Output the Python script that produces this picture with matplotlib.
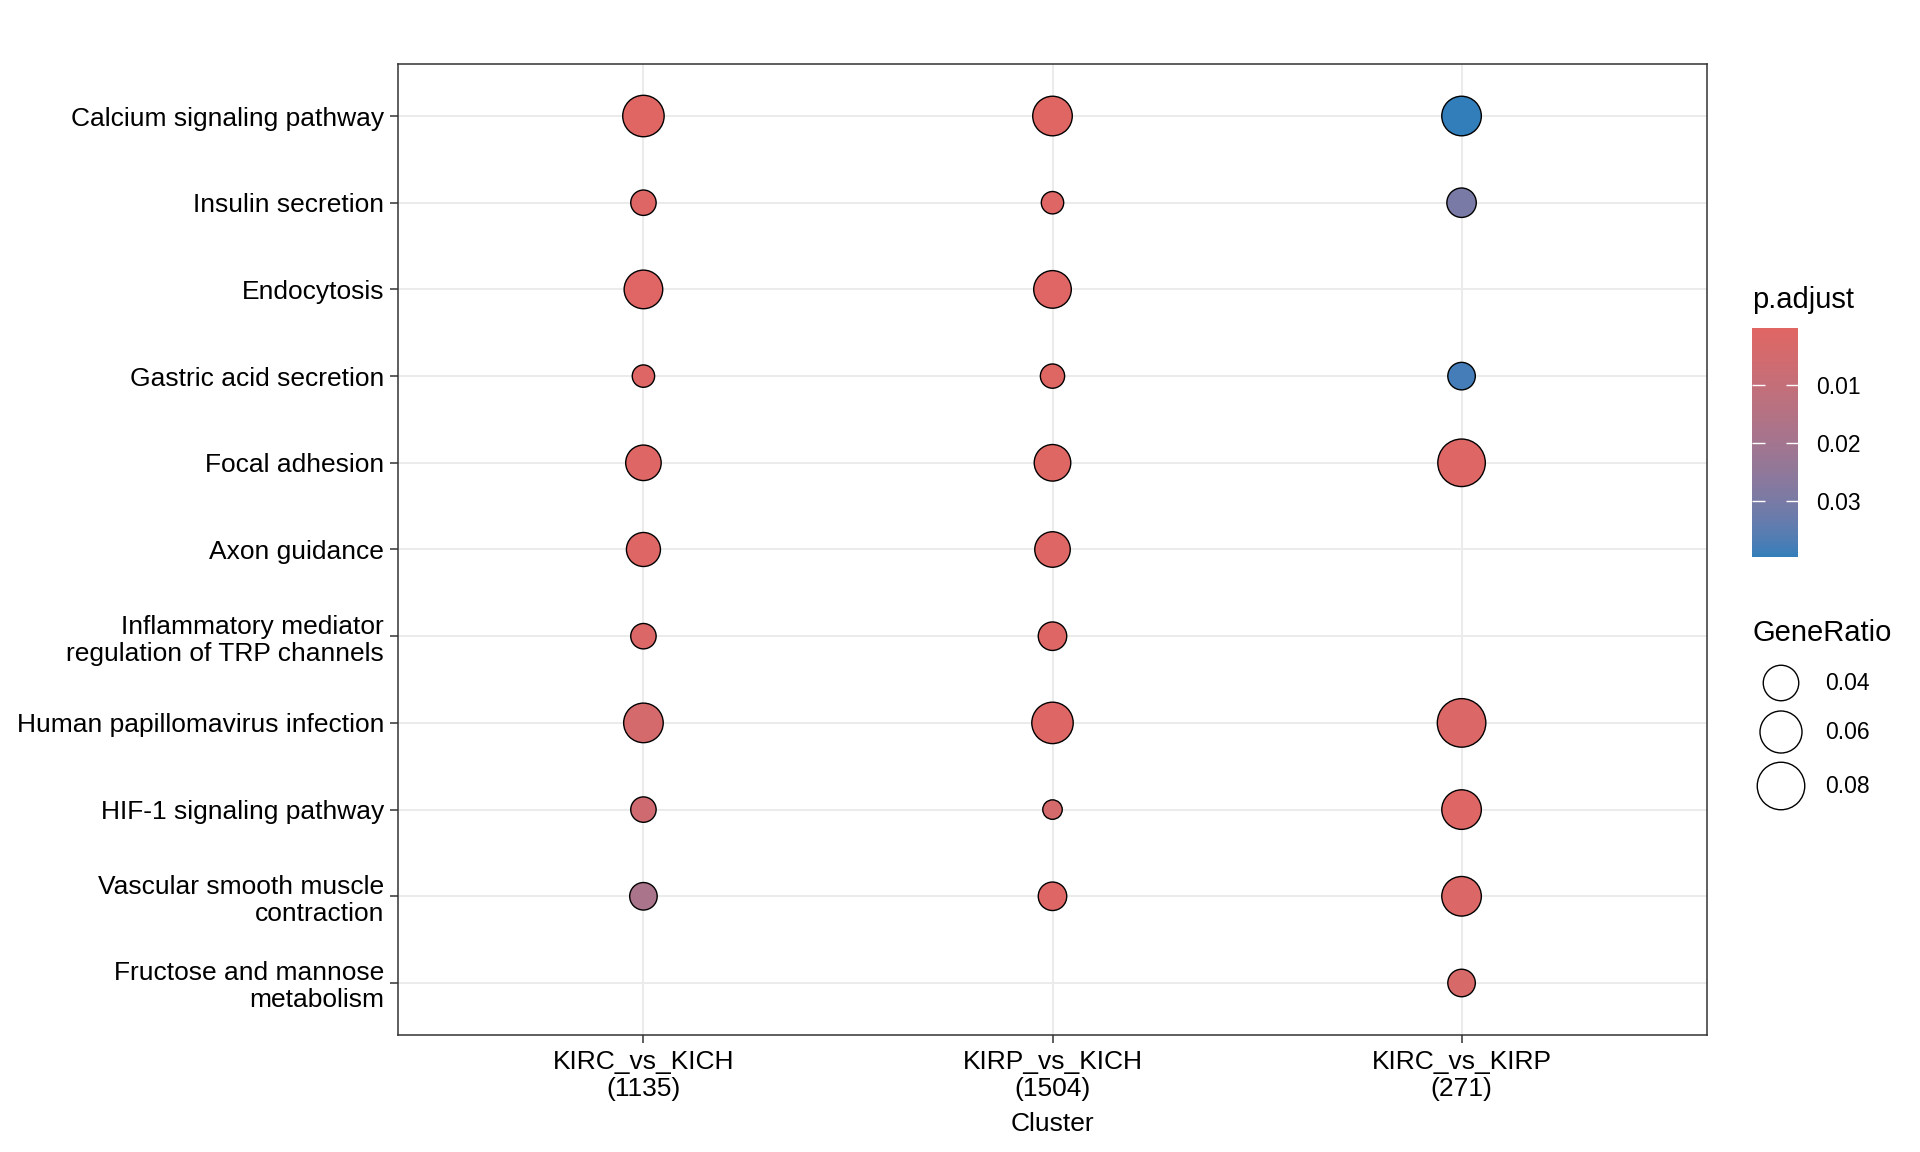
import numpy as np
import matplotlib
matplotlib.use("Agg")
import matplotlib.pyplot as plt
from matplotlib.colors import ListedColormap, Normalize
from matplotlib.cm import ScalarMappable

plt.rcParams['font.family'] = ['Liberation Sans', 'DejaVu Sans']

clusters = ["KIRC_vs_KICH\n(1135)", "KIRP_vs_KICH\n(1504)", "KIRC_vs_KIRP\n(271)"]
pathways = ["Calcium signaling pathway", "Insulin secretion", "Endocytosis",
            "Gastric acid secretion", "Focal adhesion", "Axon guidance",
            "Inflammatory mediator\nregulation of TRP channels",
            "Human papillomavirus infection", "HIF-1 signaling pathway",
            "Vascular smooth muscle\ncontraction", "Fructose and mannose\nmetabolism"]

nan = np.nan
# GeneRatio, one list per cluster (same order as pathways)
ratio_kirc_kich = [0.058, 0.017, 0.049, 0.012, 0.040, 0.036, 0.017, 0.052, 0.017, 0.021, nan]
ratio_kirp_kich = [0.052, 0.012, 0.046, 0.015, 0.043, 0.040, 0.023, 0.058, 0.008, 0.023, nan]
ratio_kirc_kirp = [0.052, 0.025, nan, 0.021, 0.080, nan, nan, 0.084, 0.052, 0.052, 0.021]

# p.adjust
padj_kirc_kich = [0.0001, 0.001, 0.0005, 0.001, 0.001, 0.001, 0.002, 0.004, 0.006, 0.018, nan]
padj_kirp_kich = [0.0003, 0.001, 0.0005, 0.0008, 0.0008, 0.001, 0.001, 0.001, 0.004, 0.001, nan]
padj_kirc_kirp = [0.0397, 0.030, nan, 0.038, 0.001, nan, nan, 0.002, 0.001, 0.002, 0.003]

size_breaks = [0.04, 0.06, 0.08]
padj_breaks = [0.01, 0.02, 0.03]

ratios = [ratio_kirc_kich, ratio_kirp_kich, ratio_kirc_kirp]
padjs = [padj_kirc_kich, padj_kirp_kich, padj_kirc_kirp]


# colour ramp in CIELAB like ggplot's gradient
def hex2rgb(h):
    return np.array([int(h[i:i + 2], 16) / 255 for i in (1, 3, 5)])

M = np.array([[0.4124, 0.3576, 0.1805], [0.2126, 0.7152, 0.0722], [0.0193, 0.1192, 0.9505]])
WHITE = np.array([0.95047, 1.0, 1.08883])

def rgb2lab(rgb):
    c = np.where(rgb > 0.04045, ((rgb + 0.055) / 1.055) ** 2.4, rgb / 12.92)
    xyz = M @ c / WHITE
    f = np.where(xyz > 0.008856, np.cbrt(xyz), 7.787 * xyz + 16 / 116)
    return np.array([116 * f[1] - 16, 500 * (f[0] - f[1]), 200 * (f[1] - f[2])])

def lab2rgb(lab):
    fy = (lab[0] + 16) / 116
    f = np.array([fy + lab[1] / 500, fy, fy - lab[2] / 200])
    xyz = np.where(f ** 3 > 0.008856, f ** 3, (f - 16 / 116) / 7.787) * WHITE
    c = np.linalg.solve(M, xyz)
    rgb = np.where(c > 0.0031308, 1.055 * np.clip(c, 0, None) ** (1 / 2.4) - 0.055, 12.92 * c)
    return np.clip(rgb, 0, 1)

lab_lo = rgb2lab(hex2rgb("#e06663"))
lab_hi = rgb2lab(hex2rgb("#327eba"))
cmap = ListedColormap([lab2rgb(lab_lo + t * (lab_hi - lab_lo)) for t in np.linspace(0, 1, 256)])

all_p = np.array(padjs, dtype=float)
norm = Normalize(vmin=np.nanmin(all_p), vmax=np.nanmax(all_p))

DPI = 100
W, H = 1920, 1152

def ratio_to_s(r):
    # diameter in px -> marker area in pt^2
    d = 35.5 + 145 * (np.sqrt(np.asarray(r, dtype=float)) - 0.2)
    return (d * 72 / DPI) ** 2

def box(x0, y0, x1, y1):
    # pixel box (top-left origin) -> figure fraction
    return [x0 / W, 1 - y1 / H, (x1 - x0) / W, (y1 - y0) / H]


fig = plt.figure(figsize=(W / DPI, H / DPI), dpi=DPI)
ax = fig.add_axes(box(398, 64, 1707, 1035))

for j in range(3):
    r = np.array(ratios[j], dtype=float)
    p = np.array(padjs[j], dtype=float)
    ok = ~np.isnan(r)
    ys = np.arange(1, len(pathways) + 1)[ok]
    ax.scatter(np.full(ok.sum(), j + 1), ys, s=ratio_to_s(r[ok]), c=cmap(norm(p[ok])),
               edgecolors="black", linewidths=1.0, zorder=3)

ax.set_xlim(0.4, 3.6)
ax.set_ylim(len(pathways) + 0.6, 0.4)
ax.set_xticks([1, 2, 3])
ax.set_xticklabels(clusters, fontsize=19, linespacing=1.15)
ax.set_yticks(np.arange(1, len(pathways) + 1))
ax.set_yticklabels(pathways, fontsize=19, linespacing=1.15)
ax.grid(True, color="#EBEBEB", linewidth=1.4, zorder=0)
ax.set_axisbelow(True)
ax.tick_params(length=6, width=1.1, color="#333333", labelcolor="black", pad=4)
ax.tick_params(axis="x", pad=5)
for sp in ax.spines.values():
    sp.set_color("#333333")
    sp.set_linewidth(1.1)
ax.set_xlabel("Cluster", fontsize=19, labelpad=8)

# p.adjust colour bar
fig.text(1752 / W, 1 - 300 / H, "p.adjust", fontsize=21, va="center", ha="left")
cax = fig.add_axes(box(1752, 328, 1798, 557))
cb = fig.colorbar(ScalarMappable(norm=norm, cmap=cmap), cax=cax)
cb.outline.set_visible(False)
cax.invert_yaxis()
cb.set_ticks(padj_breaks)
cb.set_ticklabels([f"{b:.2f}" for b in padj_breaks])
cax.tick_params(left=True, right=True, labelleft=False, labelright=True, direction="in",
                color="white", length=9, width=1.0, labelsize=16.5, pad=13)

# GeneRatio size legend
fig.text(1752 / W, 1 - 633 / H, "GeneRatio", fontsize=21, va="center", ha="left")
lax = fig.add_axes(box(1752, 650, 1912, 820))
lax.set_xlim(1752, 1912)
lax.set_ylim(820, 650)
lax.axis("off")
leg_y = [683, 732, 786]
lax.scatter([1781] * 3, leg_y, s=ratio_to_s(size_breaks), facecolors="white",
            edgecolors="black", linewidths=1.0)
for yy, b in zip(leg_y, size_breaks):
    lax.text(1825, yy, f"{b:.2f}", fontsize=16.5, va="center", ha="left")

fig.savefig("out.png", dpi=DPI, facecolor="white")
